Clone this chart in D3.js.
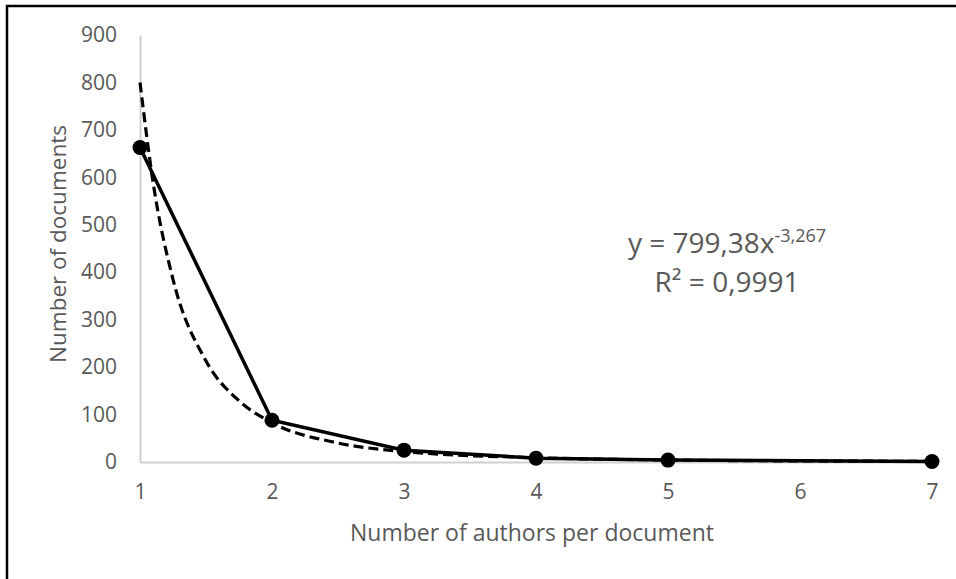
<!DOCTYPE html>
<html>
<head>
<meta charset="utf-8">
<script src="https://cdn.jsdelivr.net/npm/d3@7"></script>
<style>
  body { margin: 0; background: #fff; }
  text { font-family: "Open Sans", sans-serif; fill: #595959; }
</style>
</head>
<body>
<svg id="chart" width="956" height="579"></svg>
<script>
// authors per document vs number of documents
const authors = [1, 2, 3, 4, 5, 7];
const documents = [663, 88, 25, 8, 4, 1];

// dashed power trendline
const trendX = [1, 1.1, 1.25, 1.5, 1.75, 2, 2.5, 3, 4, 5, 6, 7];
const trendY = [800, 588, 385, 213, 129, 83, 40, 22, 9, 4.2, 2.3, 1.4];

const xTicks = [1, 2, 3, 4, 5, 6, 7];
const yTicks = [0, 100, 200, 300, 400, 500, 600, 700, 800, 900];

const svg = d3.select('#chart');

const margin = { top: 35, right: 24, bottom: 117, left: 140 },
  width = +svg.attr('width') - margin.left - margin.right,
  height = +svg.attr('height') - margin.top - margin.bottom;

// outer frame (only top and left edges visible)
svg.append('path')
  .attr('d', 'M7,579V6H956')
  .attr('fill', 'none')
  .attr('stroke', '#000')
  .attr('stroke-width', 2.5);

const g = svg.append('g')
  .attr('transform', 'translate(' + margin.left + ',' + margin.top + ')');

let x = d3.scaleLinear().domain([1, 7]).range([0, width]);
let y = d3.scaleLinear().domain([0, 900]).range([height, 0]);

// axes
const xAxis = g.append('g')
  .attr('transform', 'translate(0,' + height + ')')
  .call(d3.axisBottom(x).tickValues(xTicks).tickFormat(d3.format('d')).tickSize(0).tickPadding(22));

const yAxis = g.append('g')
  .call(d3.axisLeft(y).tickValues(yTicks).tickSize(0).tickPadding(23));

[xAxis, yAxis].forEach(a => {
  a.select('.domain').attr('stroke', '#d0d0d0').attr('stroke-width', 2);
  a.selectAll('text').style('font-size', '21px').attr('fill', '#595959');
});

// trendline
const line = d3.line()
  .x((d, i) => x(d))
  .y((d, i) => y(trendY[i]))
  .curve(d3.curveMonotoneX);

g.append('path')
  .datum(trendX)
  .attr('d', line)
  .attr('fill', 'none')
  .attr('stroke', '#000')
  .attr('stroke-width', 3.2)
  .attr('stroke-dasharray', '10,5');

// data series
const dataLine = d3.line()
  .x((d, i) => x(authors[i]))
  .y((d, i) => y(d));

g.append('path')
  .datum(documents)
  .attr('d', dataLine)
  .attr('fill', 'none')
  .attr('stroke', '#000')
  .attr('stroke-width', 3.5);

g.selectAll('circle')
  .data(documents)
  .join('circle')
  .attr('cx', (d, i) => x(authors[i]))
  .attr('cy', d => y(d))
  .attr('r', 7.5)
  .attr('fill', '#000');

// axis titles
svg.append('text')
  .attr('x', margin.left + width / 2 - 4)
  .attr('y', 541)
  .attr('text-anchor', 'middle')
  .style('font-size', '23px')
  .text('Number of authors per document');

svg.append('text')
  .attr('transform', 'translate(66,244) rotate(-90)')
  .attr('text-anchor', 'middle')
  .style('font-size', '22.5px')
  .text('Number of documents');

// equation label
const eq = svg.append('text')
  .attr('x', 727)
  .attr('y', 253)
  .attr('text-anchor', 'middle')
  .style('font-size', '28px');
eq.append('tspan').text('y = 799,38x');
eq.append('tspan').attr('dy', -11).style('font-size', '18px').text('-3,267');

svg.append('text')
  .attr('x', 727)
  .attr('y', 292)
  .attr('text-anchor', 'middle')
  .style('font-size', '28px')
  .text('R² = 0,9991');
</script>
</body>
</html>
